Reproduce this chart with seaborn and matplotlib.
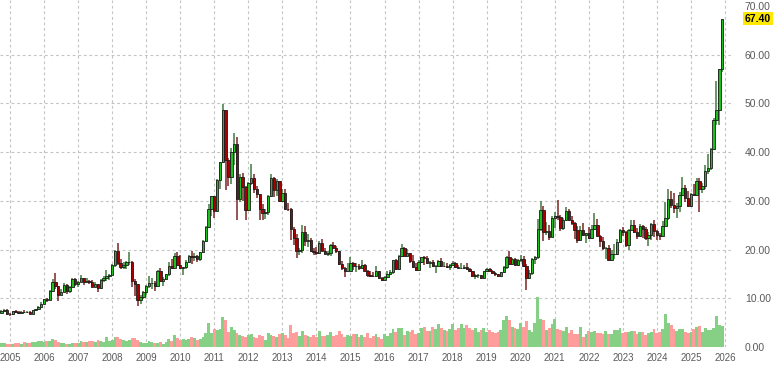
import numpy as np
import pandas as pd
import matplotlib
matplotlib.use("Agg")
import matplotlib.pyplot as plt
import matplotlib.transforms as mtransforms
import seaborn as sns

# ---------------- data (monthly, Oct 2004 .. Dec 2025) ----------------
start_year, start_month = 2004, 10
first_open = 6.90

close = [
    7.30, 7.60, 6.82,
    6.73, 7.42, 7.15, 7.00, 7.20, 7.10, 7.20, 6.85, 7.52, 7.70, 8.30, 8.85,
    9.80, 9.68, 11.55, 13.40, 12.60, 10.75, 11.25, 12.75, 11.50, 12.40, 13.90, 12.90,
    13.40, 14.10, 13.30, 13.45, 13.30, 12.40, 12.90, 12.10, 13.85, 14.25, 14.55, 14.80,
    16.80, 19.80, 17.25, 16.45, 16.90, 17.50, 17.50, 13.60, 12.90, 9.70, 10.30, 11.30,
    12.60, 13.10, 13.10, 12.60, 15.60, 13.60, 13.90, 14.90, 16.60, 16.30, 18.60, 16.90,
    16.20, 16.40, 17.50, 18.70, 18.40, 18.70, 18.00, 19.40, 21.80, 24.70, 28.30, 30.90,
    27.90, 34.20, 37.90, 48.60, 38.40, 34.80, 40.00, 41.60, 30.40, 34.90, 32.90, 28.20,
    33.60, 34.70, 32.50, 31.30, 28.40, 27.50, 27.80, 31.00, 34.60, 32.30, 34.00, 30.00,
    31.60, 28.40, 28.30, 24.30, 22.30, 19.70, 19.90, 23.50, 21.70, 21.90, 19.60, 19.40,
    19.20, 21.30, 19.80, 19.10, 19.30, 21.00, 20.40, 19.60, 17.00, 16.20, 15.50, 15.60,
    17.20, 16.60, 16.60, 16.30, 16.80, 15.60, 14.70, 14.60, 14.50, 15.60, 14.10, 13.80,
    14.30, 14.90, 15.40, 17.90, 16.00, 18.70, 20.30, 18.70, 19.20, 17.70, 16.50, 15.90,
    17.50, 18.40, 18.30, 17.20, 17.40, 16.60, 16.70, 17.70, 16.70, 16.70, 16.50, 16.90,
    17.30, 16.50, 16.30, 16.30, 16.40, 16.00, 15.50, 14.50, 14.70, 14.70, 14.10, 15.50,
    16.10, 15.60, 15.10, 14.90, 14.60, 15.30, 16.40, 18.40, 17.00, 18.10, 16.90, 17.90,
    18.00, 16.70, 14.20, 15.10, 18.00, 18.50, 24.30, 28.20, 23.60, 23.90, 22.60, 26.40,
    26.90, 26.70, 24.50, 26.00, 27.90, 26.10, 25.50, 24.00, 22.00, 24.00, 23.00, 23.30,
    22.40, 24.30, 25.10, 22.80, 21.70, 20.30, 20.30, 17.90, 19.00, 19.10, 21.50, 24.00,
    23.60, 20.90, 24.10, 25.00, 23.60, 22.80, 24.80, 24.20, 22.30, 22.90, 25.30, 23.80,
    22.90, 22.70, 24.90, 26.50, 30.40, 29.10, 28.60, 28.90, 31.10, 32.70, 30.60, 28.90,
    31.30, 31.20, 34.10, 32.50, 33.00, 36.10, 36.70, 40.70, 46.60, 48.60, 57.00, 67.40,
]

high = [
    7.50, 7.82, 7.70,
    7.00, 7.48, 7.62, 7.38, 7.45, 7.55, 7.35, 7.30, 7.56, 7.88, 8.35, 9.22,
    9.95, 10.10, 11.60, 14.00, 15.20, 12.60, 11.90, 13.10, 12.90, 12.60, 14.10, 14.10,
    13.60, 14.70, 14.10, 14.10, 13.75, 13.80, 13.30, 13.00, 13.95, 14.60, 15.80, 15.00,
    17.00, 19.90, 21.30, 18.00, 17.50, 17.60, 19.50, 17.60, 13.90, 12.90, 10.70, 11.50,
    12.70, 14.60, 14.20, 13.50, 15.80, 16.20, 14.30, 15.00, 17.50, 18.10, 19.20, 19.40,
    18.90, 16.50, 17.80, 18.80, 19.60, 19.20, 18.80, 19.50, 21.90, 24.90, 29.30, 31.00,
    31.00, 34.40, 38.00, 49.80, 48.60, 38.80, 40.90, 44.00, 43.00, 35.60, 35.70, 33.00,
    33.90, 37.50, 35.40, 33.10, 31.40, 29.30, 28.30, 31.10, 35.40, 34.90, 34.50, 34.10,
    32.50, 32.40, 29.50, 28.50, 24.60, 23.10, 20.40, 25.10, 24.80, 23.10, 22.30, 20.40,
    20.60, 21.80, 22.10, 20.30, 19.80, 21.20, 21.60, 20.80, 19.60, 17.70, 16.40, 17.30,
    18.50, 17.50, 17.30, 17.00, 17.80, 17.00, 15.70, 15.60, 15.30, 16.60, 15.60, 14.40,
    14.60, 15.60, 15.90, 17.90, 18.00, 18.80, 21.10, 20.50, 20.10, 19.20, 18.90, 17.20,
    17.90, 18.50, 18.60, 18.70, 17.60, 17.90, 16.90, 17.80, 18.20, 17.40, 17.30, 17.00,
    17.70, 17.40, 16.90, 17.30, 16.90, 17.30, 16.20, 15.60, 14.90, 14.90, 14.70, 15.60,
    16.20, 16.20, 15.70, 15.30, 15.00, 15.40, 16.60, 18.60, 19.70, 18.20, 18.20, 18.00,
    18.90, 18.70, 17.10, 15.70, 18.20, 18.60, 26.20, 29.90, 28.90, 25.60, 25.10, 26.80,
    27.80, 30.10, 27.00, 26.40, 28.70, 28.30, 26.80, 25.60, 24.90, 24.80, 25.40, 23.40,
    24.70, 25.00, 27.50, 26.20, 22.90, 22.50, 20.50, 20.90, 19.90, 21.20, 22.20, 24.30,
    24.60, 23.90, 24.20, 26.10, 26.10, 24.50, 25.30, 25.00, 24.60, 23.60, 25.50, 26.00,
    24.10, 23.40, 25.80, 29.70, 32.50, 32.00, 31.70, 29.50, 31.90, 34.90, 33.30, 32.00,
    31.60, 33.40, 34.60, 34.60, 33.70, 37.30, 39.50, 40.80, 47.00, 54.50, 57.10, 67.40,
]

low = [
    6.88, 7.25, 6.52,
    6.38, 6.62, 6.95, 6.82, 6.95, 7.05, 6.95, 6.75, 6.80, 7.40, 7.60, 8.25,
    8.80, 9.25, 9.55, 11.50, 11.80, 9.40, 10.70, 11.20, 10.90, 11.10, 12.30, 12.60,
    12.30, 13.30, 12.80, 13.25, 12.95, 12.30, 12.35, 11.20, 12.00, 13.40, 13.60, 13.70,
    14.80, 16.50, 16.90, 16.10, 16.10, 16.00, 16.90, 12.30, 10.40, 8.40, 8.80, 9.80,
    10.60, 12.20, 12.00, 11.50, 12.30, 13.30, 12.50, 13.80, 14.50, 16.00, 16.20, 16.60,
    16.00, 14.70, 16.10, 17.20, 17.00, 17.70, 17.40, 17.60, 19.30, 21.60, 24.40, 26.90,
    26.40, 27.60, 32.50, 37.80, 32.30, 33.00, 33.50, 37.40, 26.00, 29.80, 30.00, 26.10,
    27.90, 33.20, 31.60, 30.50, 26.10, 26.10, 26.20, 27.10, 30.70, 30.80, 31.00, 29.70,
    29.90, 28.10, 28.00, 22.00, 20.90, 18.20, 18.80, 19.30, 20.80, 20.60, 19.40, 18.80,
    18.90, 19.10, 19.60, 19.00, 18.70, 18.70, 20.30, 19.30, 16.90, 15.80, 14.40, 15.30,
    15.50, 15.90, 15.30, 15.70, 16.10, 15.50, 14.40, 14.40, 14.30, 14.40, 13.90, 13.60,
    13.70, 14.20, 14.80, 15.00, 15.80, 15.80, 18.50, 18.60, 18.60, 17.20, 16.20, 15.60,
    15.80, 17.30, 16.80, 17.10, 16.20, 16.40, 15.20, 16.60, 16.50, 16.50, 16.30, 15.70,
    16.80, 16.20, 16.20, 16.10, 16.10, 15.90, 15.40, 14.40, 13.90, 14.20, 13.90, 14.00,
    15.30, 15.50, 14.90, 14.60, 14.30, 14.30, 15.10, 16.10, 16.80, 16.90, 16.60, 16.60,
    17.40, 16.50, 11.70, 14.00, 14.70, 17.10, 18.00, 23.80, 21.80, 23.00, 21.90, 22.50,
    24.50, 26.00, 23.80, 24.00, 25.80, 25.80, 25.00, 22.20, 21.40, 21.90, 22.80, 21.40,
    22.10, 22.10, 24.00, 22.70, 20.50, 19.90, 18.10, 17.60, 17.60, 18.10, 18.80, 21.30,
    22.80, 20.50, 19.90, 24.00, 23.30, 22.10, 22.50, 22.30, 22.00, 20.70, 22.00, 22.50,
    21.90, 21.90, 22.50, 24.80, 26.00, 28.60, 27.40, 26.50, 27.70, 31.00, 29.70, 28.80,
    28.80, 31.00, 30.90, 27.70, 31.70, 32.50, 35.50, 36.30, 40.50, 45.60, 45.60, 56.50,
]

volume = [
    0.9, 0.8, 0.7,
    0.6, 0.7, 0.9, 0.8, 0.7, 1.0, 0.8, 0.9, 1.1, 1.0, 1.2, 1.3,
    1.1, 1.2, 1.3, 1.6, 1.4, 1.0, 0.8, 0.9, 0.7, 0.6, 0.8, 0.9,
    0.9, 1.2, 1.0, 1.1, 1.3, 1.2, 1.0, 1.4, 1.2, 1.1, 2.0, 1.2,
    1.4, 2.1, 2.0, 1.6, 1.4, 1.2, 1.5, 1.9, 1.8, 1.5, 1.0, 0.9,
    0.9, 1.2, 1.0, 0.8, 0.9, 1.1, 0.7, 1.0, 1.6, 1.2, 2.4, 1.8,
    1.5, 1.7, 1.5, 1.6, 2.0, 1.8, 1.4, 1.6, 2.0, 2.9, 4.9, 2.9,
    3.6, 3.5, 3.7, 6.1, 5.6, 3.0, 4.2, 3.4, 2.8, 2.4, 2.2, 2.0,
    2.4, 2.6, 2.0, 1.8, 2.5, 2.3, 1.5, 2.8, 2.4, 2.3, 2.0, 2.6,
    2.9, 2.5, 1.9, 4.5, 2.8, 3.1, 2.2, 3.3, 2.5, 2.2, 2.0, 2.4,
    2.0, 3.2, 2.3, 2.2, 2.5, 3.0, 2.3, 2.4, 3.2, 2.6, 2.1, 2.4,
    2.3, 2.6, 2.7, 2.1, 2.4, 2.0, 2.9, 1.8, 2.3, 2.7, 2.0, 1.7,
    2.6, 2.2, 2.8, 3.7, 3.0, 3.9, 3.9, 2.5, 3.2, 3.1, 3.5, 2.7,
    2.8, 3.9, 4.1, 3.3, 3.2, 4.2, 3.6, 4.7, 3.9, 3.4, 3.2, 3.6,
    4.8, 3.5, 3.9, 4.8, 4.0, 4.6, 3.8, 3.4, 3.8, 3.0, 3.5, 4.0,
    3.0, 3.4, 3.0, 2.9, 3.0, 3.5, 5.5, 6.3, 5.5, 4.2, 3.8, 3.6,
    4.9, 4.2, 5.3, 3.4, 3.1, 5.0, 10.3, 5.8, 5.5, 3.5, 3.9, 4.7,
    5.8, 3.6, 3.4, 3.3, 4.2, 2.9, 3.5, 2.6, 2.6, 4.2, 2.0, 2.6,
    3.2, 3.0, 3.3, 2.8, 2.9, 2.6, 3.3, 2.6, 2.6, 3.5, 3.5, 3.9,
    2.9, 3.1, 3.1, 3.3, 3.3, 2.7, 3.0, 3.1, 2.5, 2.8, 3.1, 3.6,
    2.8, 3.1, 3.6, 6.8, 4.9, 4.5, 3.7, 3.3, 3.6, 3.6, 3.0, 2.9,
    3.0, 3.6, 4.2, 4.4, 3.0, 4.0, 3.5, 3.4, 3.9, 6.3, 4.5, 4.3,
]

year_ticks = list(range(2005, 2027))
price_ticks = [0, 10, 20, 30, 40, 50, 60, 70]
last_price = 67.40

# ---------------- frame ----------------
n = len(close)
t = start_year + (start_month - 1 + np.arange(n)) / 12.0
opens = [first_open] + close[:-1]
df = pd.DataFrame(dict(t=t, open=opens, high=high, low=low, close=close, volume=volume))
df["dir"] = np.where(df["close"] >= df["open"], "up", "down")

sns.set_theme(style="white")
plt.rcParams["font.family"] = ["Liberation Sans", "DejaVu Sans"]

W, H = 778, 367
fig = plt.figure(figsize=(W / 100, H / 100), dpi=100)
fig.patch.set_facecolor("white")
ax = fig.add_axes([0, 20 / H, 731 / W, 347 / H])
ax.set_facecolor("white")

# volume bars (seaborn)
sns.barplot(data=df, x="t", y="volume", hue="dir",
            palette={"up": "#86d086", "down": "#ff9c9c"},
            native_scale=True, dodge=False, width=1.0, errorbar=None,
            legend=False, saturation=1, linewidth=0, ax=ax, zorder=2)

# candles
up = df["dir"] == "up"
wick_col = np.where(up, "#3f7a3f", "#7a2424")
ax.vlines(df["t"], df["low"], df["high"], colors=wick_col, lw=1.1, zorder=3)
body_bottom = np.minimum(df["open"], df["close"])
body_h = np.abs(df["close"] - df["open"])
body_col = np.where(up, "#1cbf1c", "#a80000")
ax.bar(df["t"], body_h, bottom=body_bottom, width=0.07, color=body_col,
       edgecolor="#1b1b1b", linewidth=0.6, zorder=4)

# axes styling
ax.set_xlim(2004.706, 2026.176)
ax.set_ylim(0, 71.2)
ax.set_xticks(year_ticks)
ax.set_xticklabels([str(y) for y in year_ticks])
ax.set_yticks(price_ticks)
ax.set_yticklabels([f"{v:.2f}" for v in price_ticks])
ax.yaxis.tick_right()
ax.set_xlabel("")
ax.set_ylabel("")
for s in ax.spines.values():
    s.set_visible(False)
ax.tick_params(axis="both", length=0)
ax.tick_params(axis="y", pad=10, labelsize=7.5, labelcolor="#5a5a5a")
ax.tick_params(axis="x", pad=4, labelsize=7.0, labelcolor="#5a5a5a")

ax.set_axisbelow(True)
ax.grid(True, color="#c4c4c4", lw=0.8, ls=(0, (2.5, 2.5)))
ax.get_ygridlines()[-1].set_visible(False)

# last price tag
trans = mtransforms.blended_transform_factory(ax.transAxes, ax.transData)
ax.text(1 + 14 / 731, last_price, f"{last_price:.2f}", transform=trans,
        ha="left", va="center", fontsize=7.5, fontweight="bold", color="black",
        bbox=dict(boxstyle="square,pad=0.18", fc="#ffe800", ec="none"),
        clip_on=False, zorder=10)

fig.savefig("out.png", dpi=100, facecolor="white")
